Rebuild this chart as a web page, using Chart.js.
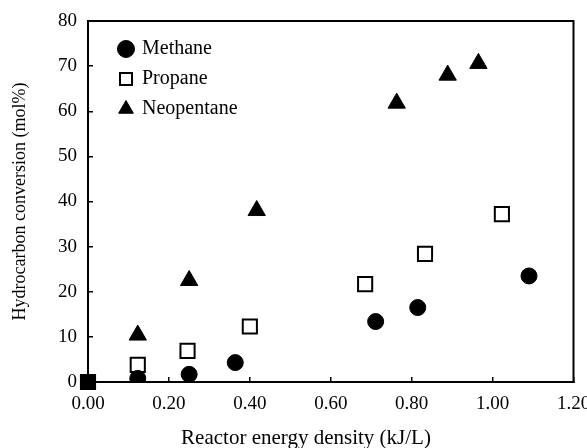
<!DOCTYPE html>
<html lang="en">
<head>
<meta charset="UTF-8">
<title>Hydrocarbon conversion vs reactor energy density</title>
<script src="https://cdn.jsdelivr.net/npm/chart.js"></script>
<style>
  body { margin: 0; background: #ffffff; }
  canvas { display: block; }
</style>
</head>
<body>

<canvas id="chart" width="587" height="448"></canvas>

<script>
    // values
    const seriesNames = ['Methane', 'Propane', 'Neopentane'];
    const methaneX = [0.123, 0.25, 0.364, 0.711, 0.815, 1.09];
    const methaneY = [0.8, 1.7, 4.3, 13.4, 16.5, 23.5];
    const propaneX = [0, 0.123, 0.246, 0.40, 0.685, 0.833, 1.023];
    const propaneY = [0, 3.8, 6.9, 12.3, 21.7, 28.4, 37.2];
    const neopentaneX = [0.123, 0.25, 0.417, 0.763, 0.889, 0.965];
    const neopentaneY = [10.4, 22.5, 38.0, 61.8, 68.0, 70.6];
    const xTickLabels = ['0.00', '0.20', '0.40', '0.60', '0.80', '1.00', '1.20'];
    const yTickLabels = ['0', '10', '20', '30', '40', '50', '60', '70', '80'];
    const xTitle = 'Reactor energy density (kJ/L)';
    const yTitle = 'Hydrocarbon conversion (mol%)';

    const serif = '"Liberation Serif", "Times New Roman", serif';
    const toPoints = (xs, ys) => xs.map((x, i) => ({ x: x, y: ys[i] }));

    // box round the plot, x title, and legend nudged into place
    const framePlugin = {
        id: 'frame',
        afterLayout(chart) {
            chart.legend.left += 22;
            chart.legend.top += 29;
        },
        afterDraw(chart) {
            const ctx = chart.ctx;
            const a = chart.chartArea;
            ctx.save();
            ctx.strokeStyle = '#000';
            ctx.lineWidth = 2;
            ctx.strokeRect(a.left, a.top, a.right - a.left, a.bottom - a.top);
            ctx.fillStyle = '#000';
            ctx.font = '21px ' + serif;
            ctx.textAlign = 'center';
            ctx.textBaseline = 'middle';
            ctx.fillText(xTitle, 306, 438);
            ctx.restore();
        }
    };

    const fixSize = (w, h) => scale => {
        if (w !== null) scale.width = w;
        if (h !== null) scale.height = h;
        scale.paddingLeft = 0;
        scale.paddingRight = 0;
        scale.paddingTop = 0;
        scale.paddingBottom = 0;
    };

    new Chart(document.getElementById('chart'), {
        type: 'scatter',
        data: {
            datasets: [{
                label: seriesNames[0],
                data: toPoints(methaneX, methaneY),
                pointStyle: 'circle',
                pointRadius: 8,
                pointHoverRadius: 8,
                backgroundColor: '#000',
                borderColor: '#000',
                borderWidth: 1
            }, {
                label: seriesNames[1],
                data: toPoints(propaneX, propaneY),
                clip: false,
                pointStyle: 'rect',
                pointRadius: 10,
                pointHoverRadius: 10,
                backgroundColor: c => c.dataIndex === 0 ? '#000' : '#fff',
                borderColor: '#000',
                borderWidth: 2
            }, {
                label: seriesNames[2],
                data: toPoints(neopentaneX, neopentaneY),
                pointStyle: 'triangle',
                pointRadius: 10,
                pointHoverRadius: 10,
                backgroundColor: '#000',
                borderColor: '#000',
                borderWidth: 1
            }]
        },
        options: {
            responsive: false,
            animation: false,
            layout: { padding: { top: 21, right: 13.5, left: 0, bottom: 0 } },
            scales: {
                x: {
                    type: 'linear',
                    min: 0,
                    max: 1.2,
                    afterFit: fixSize(null, 66),
                    border: { color: '#000', width: 2 },
                    grid: { drawOnChartArea: false, tickLength: -5, color: '#000', lineWidth: 1.5 },
                    ticks: {
                        stepSize: 0.2,
                        padding: 16,
                        color: '#000',
                        font: { family: serif, size: 19 },
                        callback: (v, i) => xTickLabels[i]
                    }
                },
                y: {
                    type: 'linear',
                    min: 0,
                    max: 80,
                    afterFit: fixSize(88, null),
                    border: { color: '#000', width: 2 },
                    grid: { drawOnChartArea: false, tickLength: -5, color: '#000', lineWidth: 1.5 },
                    ticks: {
                        stepSize: 10,
                        padding: 16,
                        color: '#000',
                        font: { family: serif, size: 19 },
                        callback: (v, i) => yTickLabels[i]
                    },
                    title: {
                        display: true,
                        text: yTitle,
                        color: '#000',
                        font: { family: serif, size: 18, lineHeight: 1 },
                        padding: { top: 11, bottom: 0 }
                    }
                }
            },
            plugins: {
                legend: {
                    position: 'chartArea',
                    align: 'start',
                    labels: {
                        usePointStyle: true,
                        boxWidth: 12,
                        boxHeight: 12,
                        padding: 10,
                        color: '#000',
                        font: { family: serif, size: 20 },
                        generateLabels: chart => {
                            const items = Chart.defaults.plugins.legend.labels.generateLabels(chart);
                            items.forEach(it => { it.fillStyle = it.datasetIndex === 1 ? '#fff' : '#000'; });
                            return items;
                        }
                    }
                },
                tooltip: { enabled: false }
            }
        },
        plugins: [framePlugin]
    });
</script>

</body>
</html>
